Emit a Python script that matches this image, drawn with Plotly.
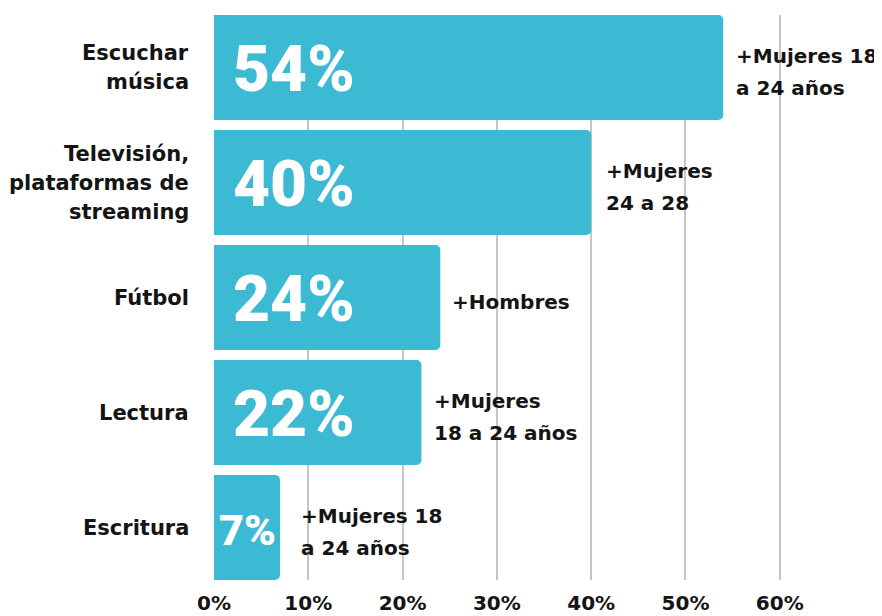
import plotly.graph_objects as go

categories = ["Escuchar<br>música", "Televisión,<br>plataformas de<br>streaming", "Fútbol", "Lectura", "Escritura"]
values = [54, 40, 24, 22, 7]
value_labels = ["54%", "40%", "24%", "22%", "7%"]
notes = ["+Mujeres 18<br>a 24 años", "+Mujeres<br>24 a 28", "+Hombres", "+Mujeres<br>18 a 24 años", "+Mujeres 18<br>a 24 años"]
tick_vals = [0, 10, 20, 30, 40, 50, 60]
tick_text = ["0%", "10%", "20%", "30%", "40%", "50%", "60%"]

BAR = "#3DBAD3"
TXT = "#141414"
FONT = "DejaVu Sans"
VFONT = "Roboto"

fig = go.Figure()
fig.add_trace(go.Bar(
    x=values, y=categories, orientation="h",
    marker=dict(color=BAR, line=dict(width=0), cornerradius=5),
    hoverinfo="skip",
))

annotations = []

# category labels (one annotation per line for tighter control of line spacing)
CAT_LINE = 29
for c in categories:
    lines = c.split("<br>")
    k = len(lines)
    for i, ln in enumerate(lines):
        annotations.append(dict(
            x=0, y=c, xref="x", yref="y", text=ln, showarrow=False,
            xanchor="right", yanchor="middle", align="right", xshift=-23,
            yshift=((k - 1) / 2 - i) * CAT_LINE,
            font=dict(family=FONT, size=21, color=TXT, weight="bold"),
        ))

# value labels inside bars
for c, v, lab in zip(categories, values, value_labels):
    big = v > 10
    annotations.append(dict(
        x=0, y=c, xref="x", yref="y", text=lab, showarrow=False,
        xanchor="left", yanchor="middle", xshift=17 if big else 3, yshift=-2,
        font=dict(family=VFONT, size=64 if big else 43, color="white", weight=900),
    ))

# notes to the right of the bars
shifts = [11, 13, 10, 11, 19]
LINE = 32
for c, v, n, s in zip(categories, values, notes, shifts):
    lines = n.split("<br>")
    k = len(lines)
    for i, ln in enumerate(lines):
        annotations.append(dict(
            x=v, y=c, xref="x", yref="y", text=ln, showarrow=False,
            xanchor="left", yanchor="middle", align="left", xshift=s,
            yshift=((k - 1) / 2 - i) * LINE - 4,
            font=dict(family=FONT, size=20, color=TXT, weight="bold"),
        ))

g = 0.087
fig.update_layout(
    width=874, height=608,
    margin=dict(l=206, r=0, t=7, b=36),
    paper_bgcolor="white", plot_bgcolor="white",
    showlegend=False,
    bargap=g,
    annotations=annotations,
    xaxis=dict(
        range=[0, 70.84], tickvals=tick_vals, ticktext=tick_text,
        showgrid=True, gridcolor="#c6c6c6", gridwidth=2,
        zeroline=False, showline=False, ticks="",
        ticklabelstandoff=9,
        tickfont=dict(family=FONT, size=20, color=TXT, weight="bold"),
        fixedrange=True,
    ),
    yaxis=dict(
        range=[4.5 - g / 2, -0.5 + g / 2],
        showgrid=False, zeroline=False, showline=False, ticks="",
        showticklabels=False,
        fixedrange=True,
    ),
)
fig.write_html("out.html")
